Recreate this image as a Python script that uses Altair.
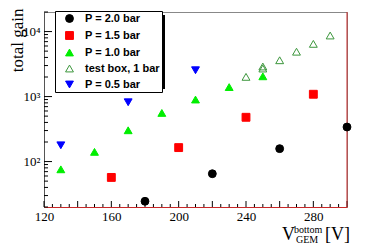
import altair as alt
import pandas as pd

# ---- data ----
series = ["P = 2.0 bar", "P = 1.5 bar", "P = 1.0 bar", "test box, 1 bar", "P = 0.5 bar"]

p20_v = [180, 220, 260, 300]
p20_g = [24.5, 65, 158, 340]

p15_v = [160, 200, 240, 280]
p15_g = [57, 164, 480, 1085]

p10_v = [130, 150, 170, 190, 210, 230, 250]
p10_g = [76, 141, 303, 560, 900, 1400, 2050]

tb_v = [240, 250, 250, 260, 270, 280, 290]
tb_g = [2010, 2900, 2700, 3620, 4900, 6470, 8700]

p05_v = [130, 170, 210]
p05_g = [178, 817, 2540]

x_major = [120, 140, 160, 180, 200, 220, 240, 260, 280, 300]
x_minor = [v for v in range(120, 301, 5) if v % 20 != 0]
y_major = [100, 1000, 10000]
y_minor = [20, 30, 40, 50, 60, 70, 80, 90,
           200, 300, 400, 500, 600, 700, 800, 900,
           2000, 3000, 4000, 5000, 6000, 7000, 8000, 9000, 20000]

colors = ["#000000", "#ff0000", "#00ee00", "#3c963c", "#0000ff"]
fills = ["#000000", "#ff0000", "#00ee00", "transparent", "#0000ff"]
shapes = ["circle", "square", "triangle-up", "triangle-up", "triangle-down"]

rows = []
for name, vs, gs in zip(series, [p20_v, p15_v, p10_v, tb_v, p05_v],
                        [p20_g, p15_g, p10_g, tb_g, p05_g]):
    for v, g in zip(vs, gs):
        rows.append({"v": v, "g": g, "s": name})
df = pd.DataFrame(rows)

W, H = 303, 195
RED = "#c82828"

xscale = alt.Scale(domain=[120, 300], nice=False, zero=False)
yscale = alt.Scale(type="log", domain=[20, 20000], nice=False)

xaxis = alt.Axis(values=x_major, ticks=False, grid=False, labelFont="Liberation Serif",
                 labelFontSize=13, labelColor="black", labelPadding=3,
                 domainColor=RED, title=None, labelFlush=False)
yaxis = alt.Axis(values=y_major, ticks=False, grid=False, labelFont="Liberation Serif",
                 labelFontSize=13, labelColor="black", labelPadding=4, domainColor="#555555",
                 labelExpr="datum.value == 100 ? '10²' : datum.value == 1000 ? '10³' : '10⁴'",
                 title="total gain", titleFont="Liberation Serif", titleFontSize=17,
                 titleFontWeight="normal", titleColor="black", titleAngle=270,
                 titleAlign="right", titleBaseline="middle", titleX=-27, titleY=-4)

# legend shadow (decoration)
shadow = alt.Chart(pd.DataFrame({"a": [0]})).mark_rect(color="black").encode(
    x=alt.value(14), x2=alt.value(121), y=alt.value(3), y2=alt.value(77))

pts = alt.Chart(df).mark_point(opacity=1, size=62, strokeWidth=1, clip=False).encode(
    x=alt.X("v:Q", scale=xscale, axis=xaxis),
    y=alt.Y("g:Q", scale=yscale, axis=yaxis),
    shape=alt.Shape("s:N", scale=alt.Scale(domain=series, range=shapes), title=None),
    stroke=alt.Stroke("s:N", scale=alt.Scale(domain=series, range=colors), title=None),
    fill=alt.Fill("s:N", scale=alt.Scale(domain=series, range=fills), title=None),
)

xmaj = alt.Chart(pd.DataFrame({"v": x_major})).mark_rule(color="black", strokeWidth=1).encode(
    x=alt.X("v:Q", scale=xscale), y=alt.value(H), y2=alt.value(H - 6))
xmin = alt.Chart(pd.DataFrame({"v": x_minor})).mark_rule(color="black", strokeWidth=1).encode(
    x=alt.X("v:Q", scale=xscale), y=alt.value(H), y2=alt.value(H - 3))
ymaj = alt.Chart(pd.DataFrame({"g": y_major})).mark_rule(color="black", strokeWidth=1).encode(
    y=alt.Y("g:Q", scale=yscale), x=alt.value(0), x2=alt.value(8))
ymin = alt.Chart(pd.DataFrame({"g": y_minor})).mark_rule(color="black", strokeWidth=1).encode(
    y=alt.Y("g:Q", scale=yscale), x=alt.value(0), x2=alt.value(4))

right = alt.Chart(pd.DataFrame({"v": [300]})).mark_rule(color=RED, strokeWidth=1).encode(
    x=alt.X("v:Q", scale=xscale), y=alt.value(0), y2=alt.value(H))

def txt(t, x, y, size):
    return alt.Chart(pd.DataFrame({"a": [0]})).mark_text(
        text=t, align="left", baseline="alphabetic", font="Liberation Serif",
        fontSize=size, color="black").encode(x=alt.value(x), y=alt.value(y))

title_parts = [
    txt("V", 238, 228, 18),
    txt("bottom", 250, 221, 10),
    txt("GEM", 252, 231, 10),
    txt("[V]", 281, 228, 18),
]

chart = alt.layer(shadow, xmin, xmaj, ymin, ymaj, right, pts, *title_parts).properties(
    width=W, height=H,
    autosize=alt.AutoSizeParams(type="none"),
    padding={"left": 36, "top": 4, "right": 11, "bottom": 37},
).configure_view(stroke="#888888").configure_legend(
    orient="none", legendX=11, legendY=-1, padding=2, strokeColor="black",
    fillColor="white", labelFont="Liberation Sans", labelFontWeight="bold",
    labelFontSize=11, labelColor="black", symbolSize=62, symbolStrokeWidth=1,
    rowPadding=4, symbolOffset=7, labelOffset=10, cornerRadius=0,
)

chart.save("out.html", embed_options={"renderer": "svg", "actions": False})
